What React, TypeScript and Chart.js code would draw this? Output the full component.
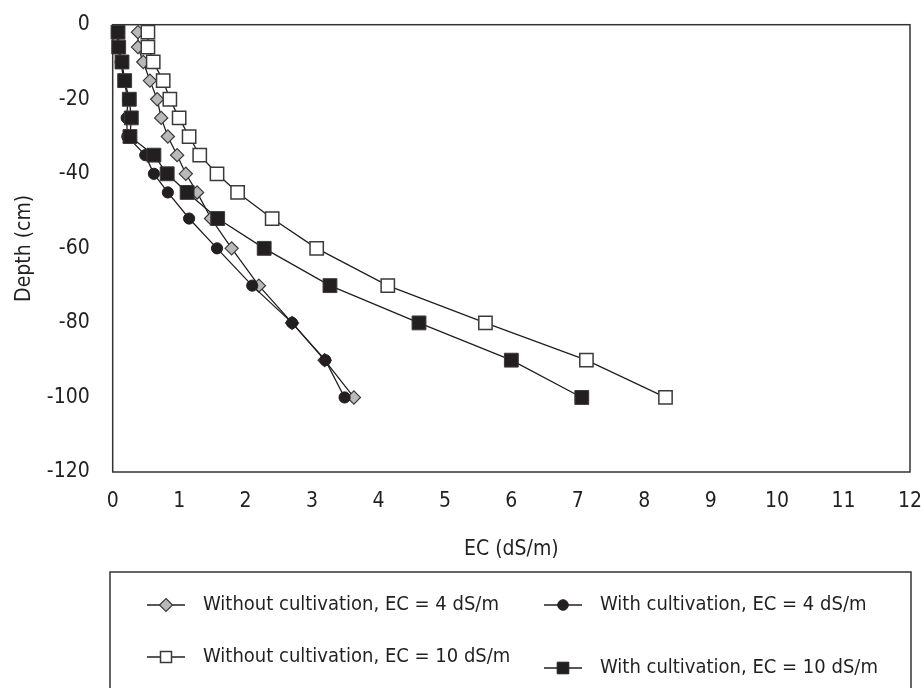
import React, { useEffect, useRef } from 'react';
import { Chart, registerables } from 'chart.js';

Chart.register(...registerables);

const FONT = "'Liberation Sans Narrow', 'Arial Narrow', 'DejaVu Sans Condensed', sans-serif";
const INK = '#231f20';
const AXIS_FONT = 21;
const LEGEND_FONT = 20;

// Depth (cm) of each sampling point
const depth = [-2, -6, -10, -15, -20, -25, -30, -35, -40, -45, -52, -60, -70, -80, -90, -100];
// EC (dS/m) series
const ecWithout4 = [0.38, 0.38, 0.46, 0.56, 0.67, 0.73, 0.83, 0.97, 1.1, 1.27, 1.48, 1.79, 2.2, 2.7, 3.19, 3.63];
const ecWith4 = [0.07, 0.08, 0.12, 0.17, 0.23, 0.21, 0.22, 0.49, 0.62, 0.83, 1.15, 1.57, 2.1, 2.7, 3.2, 3.49];
const ecWithout10 = [0.53, 0.53, 0.61, 0.76, 0.86, 1.0, 1.15, 1.31, 1.57, 1.88, 2.4, 3.07, 4.14, 5.61, 7.13, 8.32];
const ecWith10 = [0.08, 0.09, 0.14, 0.18, 0.25, 0.28, 0.26, 0.62, 0.82, 1.12, 1.58, 2.28, 3.27, 4.61, 6.0, 7.06];

const labelWithout4 = 'Without cultivation, EC = 4 dS/m';
const labelWith4 = 'With cultivation, EC = 4 dS/m';
const labelWithout10 = 'Without cultivation, EC = 10 dS/m';
const labelWith10 = 'With cultivation, EC = 10 dS/m';

const xTicks = { min: 0, max: 12, step: 1 };
const yTicks = { min: -120, max: 0, step: 20 };

type Kind = 'diamond' | 'circle' | 'open' | 'filled';

function pts(ec: number[]) {
  return ec.map((v, i) => ({ x: v, y: depth[i] }));
}

function drawMarker(ctx: CanvasRenderingContext2D, kind: Kind, cx: number, cy: number) {
  ctx.save();
  ctx.beginPath();
  if (kind === 'diamond') {
    const r = 6.5;
    ctx.moveTo(cx, cy - r);
    ctx.lineTo(cx + r, cy);
    ctx.lineTo(cx, cy + r);
    ctx.lineTo(cx - r, cy);
    ctx.closePath();
    ctx.fillStyle = '#b9b9b9';
    ctx.strokeStyle = '#3a3a3a';
    ctx.lineWidth = 1.2;
  } else if (kind === 'circle') {
    ctx.arc(cx, cy, 5.3, 0, Math.PI * 2);
    ctx.fillStyle = INK;
    ctx.strokeStyle = INK;
    ctx.lineWidth = 1;
  } else if (kind === 'open') {
    const s = 5.5;
    ctx.rect(cx - s, cy - s, 2 * s, 2 * s);
    ctx.fillStyle = '#ffffff';
    ctx.strokeStyle = '#3a3a3a';
    ctx.lineWidth = 1.5;
  } else {
    const s = 5.8;
    ctx.rect(cx - s, cy - s, 2 * s, 2 * s);
    ctx.fillStyle = INK;
    ctx.strokeStyle = INK;
    ctx.lineWidth = 1;
  }
  ctx.fill();
  ctx.stroke();
  ctx.restore();
}

export default function App() {
  const ref = useRef<HTMLCanvasElement>(null);

  useEffect(() => {
    document.body.style.margin = '0';
    if (!ref.current) return;

    const framePlugin = {
      id: 'frame',
      beforeDatasetsDraw(chart: any) {
        const { ctx, chartArea: a } = chart;
        ctx.save();
        ctx.strokeStyle = '#333333';
        ctx.lineWidth = 1.5;
        ctx.strokeRect(a.left, a.top, a.right - a.left, a.bottom - a.top);
        ctx.restore();
      },
    };

    const legendPlugin = {
      id: 'boxLegend',
      afterDraw(chart: any) {
        const ctx: CanvasRenderingContext2D = chart.ctx;
        ctx.save();
        ctx.strokeStyle = '#333333';
        ctx.lineWidth = 1.5;
        ctx.strokeRect(110, 572, 801, 140);
        const items: { kind: Kind; label: string; mx: number; y: number; tx: number }[] = [
          { kind: 'diamond', label: labelWithout4, mx: 166, y: 605, tx: 203 },
          { kind: 'circle', label: labelWith4, mx: 563, y: 605, tx: 600 },
          { kind: 'open', label: labelWithout10, mx: 166, y: 657, tx: 203 },
          { kind: 'filled', label: labelWith10, mx: 563, y: 668, tx: 600 },
        ];
        for (const it of items) {
          ctx.beginPath();
          ctx.strokeStyle = INK;
          ctx.lineWidth = 1.3;
          ctx.moveTo(it.mx - 19, it.y);
          ctx.lineTo(it.mx + 19, it.y);
          ctx.stroke();
          drawMarker(ctx, it.kind, it.mx, it.y);
          ctx.fillStyle = INK;
          ctx.font = `${LEGEND_FONT}px ${FONT}`;
          ctx.textBaseline = 'middle';
          ctx.textAlign = 'left';
          ctx.fillText(it.label, it.tx, it.y);
        }
        ctx.restore();
      },
    };

    const common = {
      showLine: true,
      borderColor: INK,
      borderWidth: 1.3,
      clip: 12,
      pointHoverRadius: 0,
    };

    const chart = new Chart(ref.current, {
      type: 'scatter',
      data: {
        datasets: [
          {
            ...common,
            label: labelWithout10,
            data: pts(ecWithout10),
            pointStyle: 'rect',
            pointRadius: 9.4,
            pointBackgroundColor: '#ffffff',
            pointBorderColor: '#3a3a3a',
            pointBorderWidth: 1.5,
          },
          {
            ...common,
            label: labelWith10,
            data: pts(ecWith10),
            pointStyle: 'rect',
            pointRadius: 9.8,
            pointBackgroundColor: INK,
            pointBorderColor: '#3a3a3a',
            pointBorderWidth: 1,
          },
          {
            ...common,
            label: labelWith4,
            data: pts(ecWith4),
            pointStyle: 'circle',
            pointRadius: 5.6,
            pointBackgroundColor: INK,
            pointBorderColor: INK,
            pointBorderWidth: 1,
          },
          {
            ...common,
            label: labelWithout4,
            data: pts(ecWithout4),
            pointStyle: 'rectRot',
            pointRadius: 6.6,
            pointBackgroundColor: '#b9b9b9',
            pointBorderColor: '#3a3a3a',
            pointBorderWidth: 1.2,
          },
        ],
      },
      options: {
        animation: false,
        responsive: true,
        maintainAspectRatio: false,
        font: { family: FONT },
        layout: { padding: { top: 24.7, right: 11, bottom: 121.6, left: 0 } },
        plugins: {
          legend: { display: false },
          tooltip: { enabled: false },
        },
        scales: {
          x: {
            type: 'linear',
            min: xTicks.min,
            max: xTicks.max,
            ticks: { stepSize: xTicks.step, color: INK, font: { family: FONT, size: AXIS_FONT }, padding: 17 },
            grid: { display: false, drawTicks: false },
            border: { display: false },
            title: {
              display: true,
              text: 'EC (dS/m)',
              color: INK,
              font: { family: FONT, size: AXIS_FONT },
              padding: { top: 4, bottom: 4 },
            },
            afterFit: (s: any) => {
              s.height = 94.4;
              s.paddingLeft = 0;
              s.paddingRight = 0;
            },
          },
          y: {
            type: 'linear',
            min: yTicks.min,
            max: yTicks.max,
            ticks: { stepSize: yTicks.step, color: INK, font: { family: FONT, size: AXIS_FONT }, padding: 23 },
            grid: { display: false, drawTicks: false },
            border: { display: false },
            title: {
              display: true,
              text: 'Depth (cm)',
              color: INK,
              font: { family: FONT, size: AXIS_FONT },
              padding: { top: 12, bottom: 4 },
            },
            afterFit: (s: any) => {
              s.width = 112.7;
              s.paddingTop = 0;
              s.paddingBottom = 0;
            },
          },
        },
      } as any,
      plugins: [framePlugin, legendPlugin],
    });

    return () => chart.destroy();
  }, []);

  return (
    <div style={{ position: 'relative', width: '921px', height: '688px' }}>
      <canvas ref={ref} />
    </div>
  );
}
